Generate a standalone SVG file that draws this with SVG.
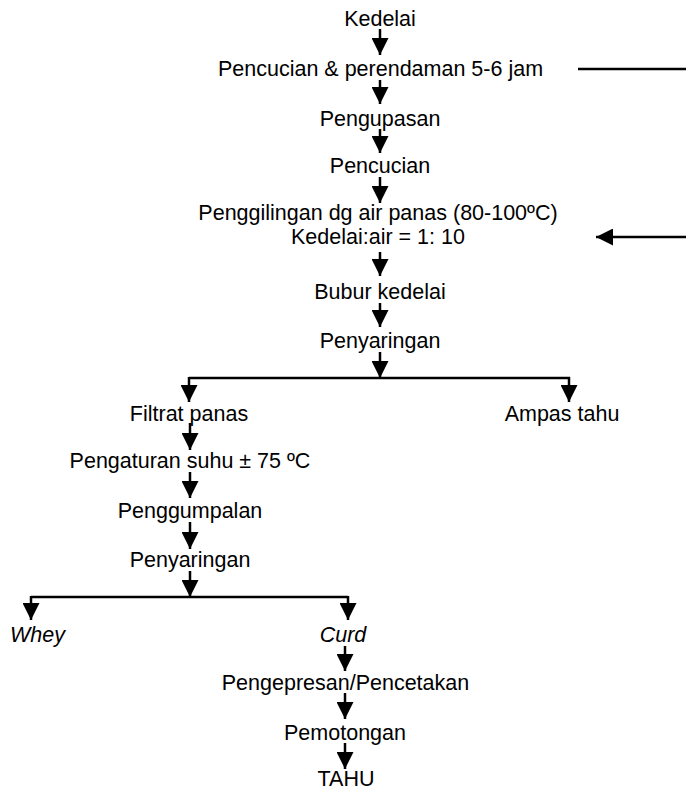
<svg xmlns="http://www.w3.org/2000/svg" width="686" height="790" viewBox="0 0 686 790">
  <style>
    text { font-family: "Liberation Sans", Arial, sans-serif; font-size: 21.5px; fill: #000; text-anchor: middle; }
    .it { font-style: italic; }
    .ln { stroke: #000; stroke-width: 2.5; fill: none; }
    .ar { stroke: #000; stroke-width: 2.5; fill: none; marker-end: url(#head); }
  </style>
  <defs>
    <marker id="head" markerUnits="userSpaceOnUse" markerWidth="17" markerHeight="17" viewBox="0 0 17 17" refX="17" refY="8.5" orient="auto">
      <path d="M0,0 L17,8.5 L0,17 z" fill="#000"/>
    </marker>
  </defs>

  <!-- process steps -->
  <g id="n-kedelai"><text x="380" y="26">Kedelai</text></g>
  <g id="n-pencucian-rendam"><text x="380.5" y="76">Pencucian &amp; perendaman 5-6 jam</text></g>
  <g id="n-pengupasan"><text x="380" y="126">Pengupasan</text></g>
  <g id="n-pencucian"><text x="380" y="173">Pencucian</text></g>
  <g id="n-penggilingan">
    <text x="378" y="220">Penggilingan dg air panas (80-100ºC)</text>
    <text x="378" y="244">Kedelai:air = 1: 10</text>
  </g>
  <g id="n-bubur"><text x="380" y="299">Bubur kedelai</text></g>
  <g id="n-penyaringan1"><text x="380" y="348">Penyaringan</text></g>
  <g id="n-filtrat"><text x="189" y="421">Filtrat panas</text></g>
  <g id="n-ampas"><text x="562" y="421">Ampas tahu</text></g>
  <g id="n-pengaturan"><text x="190" y="468">Pengaturan suhu ± 75 ºC</text></g>
  <g id="n-penggumpalan"><text x="190" y="518">Penggumpalan</text></g>
  <g id="n-penyaringan2"><text x="190" y="567">Penyaringan</text></g>
  <g id="n-whey"><text class="it" x="10" y="642" style="text-anchor:start">Whey</text></g>
  <g id="n-curd"><text class="it" x="343" y="642">Curd</text></g>
  <g id="n-pengepresan"><text x="345.5" y="690">Pengepresan/Pencetakan</text></g>
  <g id="n-pemotongan"><text x="345" y="740">Pemotongan</text></g>
  <g id="n-tahu"><text x="346" y="786">TAHU</text></g>

  <!-- connectors -->
  <g id="connectors">
    <line class="ar" x1="380" y1="29" x2="380" y2="55"/>
    <line class="ar" x1="380" y1="80" x2="380" y2="104"/>
    <line class="ar" x1="380" y1="129" x2="380" y2="153"/>
    <line class="ar" x1="380" y1="177" x2="380" y2="203"/>
    <line class="ar" x1="380" y1="252" x2="380" y2="276"/>
    <line class="ar" x1="380" y1="303" x2="380" y2="327"/>
    <line class="ar" x1="380" y1="352" x2="380" y2="378"/>
    <line class="ln" x1="189" y1="378" x2="570" y2="378"/>
    <line class="ar" x1="189" y1="377" x2="189" y2="402"/>
    <line class="ar" x1="569" y1="377" x2="569" y2="402"/>
    <line class="ar" x1="190" y1="423" x2="190" y2="450"/>
    <line class="ar" x1="190" y1="472" x2="190" y2="498"/>
    <line class="ar" x1="190" y1="522" x2="190" y2="549"/>
    <line class="ar" x1="190" y1="571" x2="190" y2="597"/>
    <line class="ln" x1="31" y1="597" x2="348" y2="597"/>
    <line class="ar" x1="31" y1="596" x2="31" y2="620"/>
    <line class="ar" x1="348" y1="596" x2="348" y2="620"/>
    <line class="ar" x1="345" y1="646" x2="345" y2="671"/>
    <line class="ar" x1="345" y1="693" x2="345" y2="719"/>
    <line class="ar" x1="345" y1="743" x2="345" y2="769"/>
    <!-- side streams -->
    <line class="ln" x1="578" y1="69" x2="686" y2="69"/>
    <line class="ar" x1="686" y1="237" x2="596" y2="237"/>
  </g>
</svg>
